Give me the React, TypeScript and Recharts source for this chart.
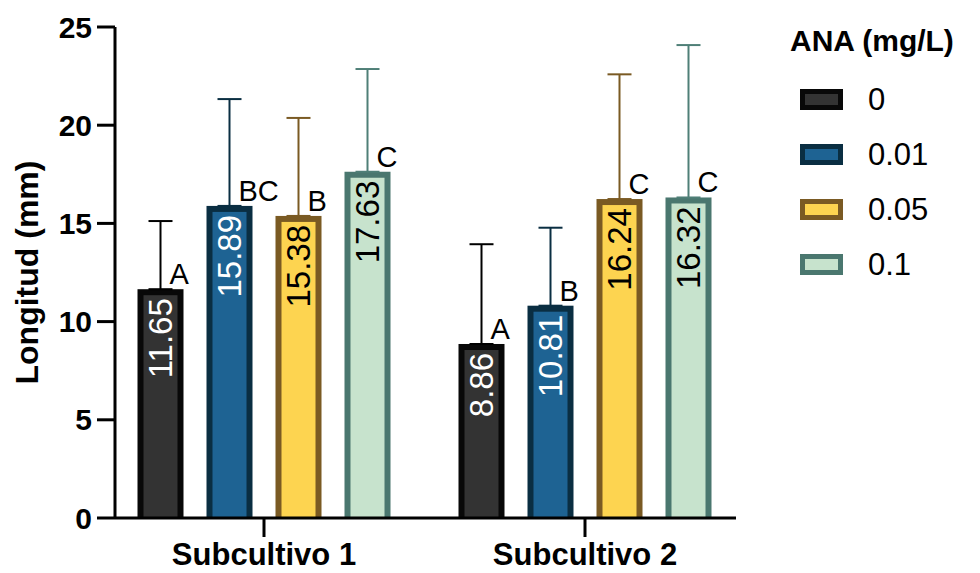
import React from 'react';
import { BarChart, Bar, XAxis, YAxis, ErrorBar, LabelList } from 'recharts';

const categories = ['Subcultivo 1', 'Subcultivo 2'];
const doses = ['0', '0.01', '0.05', '0.1'];

// means (mm) per dose, one value per subculture
const mean0 = [11.65, 8.86];
const mean001 = [15.89, 10.81];
const mean005 = [15.38, 16.24];
const mean01 = [17.63, 16.32];

// upper error (SD)
const err0 = [3.47, 5.08];
const err001 = [5.44, 3.97];
const err005 = [4.99, 6.35];
const err01 = [5.23, 7.76];

// significance letters
const letters0 = ['A', 'A'];
const letters001 = ['BC', 'B'];
const letters005 = ['B', 'C'];
const letters01 = ['C', 'C'];

const yTicks = [0, 5, 10, 15, 20, 25];

const FONT = '"Liberation Sans", Arial, sans-serif';

const series = [
    { key: 's0', name: doses[0], fill: '#333333', stroke: '#080808', err: '#000000', text: '#ffffff' },
    { key: 's1', name: doses[1], fill: '#1e6393', stroke: '#0a2e42', err: '#0a2e42', text: '#ffffff' },
    { key: 's2', name: doses[2], fill: '#fdd450', stroke: '#7a5a23', err: '#7a5a23', text: '#000000' },
    { key: 's3', name: doses[3], fill: '#c7e3cd', stroke: '#4a776f', err: '#4f7f77', text: '#000000' },
];

const means = [mean0, mean001, mean005, mean01];
const errs = [err0, err001, err005, err01];
const letters = [letters0, letters001, letters005, letters01];

const data = categories.map((name, i) => {
    const row: any = { name };
    series.forEach((s, j) => {
        row[s.key] = means[j][i];
        row[s.key + 'e'] = [0, errs[j][i]];
        row[s.key + 'l'] = letters[j][i];
    });
    return row;
});

const BORDER = 6;

const makeShape = (fill: string, stroke: string) => (props: any) => {
    const { x, y, width, height } = props;
    if (!height || height <= 0) return null;
    return (
        <g>
            <rect x={x} y={y} width={width} height={height} fill={stroke} />
            <rect x={x + BORDER} y={y + BORDER} width={width - 2 * BORDER} height={height - BORDER} fill={fill} />
        </g>
    );
};

const makeValueLabel = (color: string) => (props: any) => {
    const { x, y, width, value } = props;
    const cx = x + width / 2;
    const ty = y + 9;
    return (
        <text
            x={cx}
            y={ty}
            transform={`rotate(-90, ${cx}, ${ty})`}
            textAnchor="end"
            dominantBaseline="central"
            fill={color}
            fontSize={33}
            fontFamily={FONT}
        >
            {Number(value).toFixed(2)}
        </text>
    );
};

const LetterLabel = (props: any) => {
    const { x, y, width, value } = props;
    return (
        <text x={x + width / 2 + 9} y={y - 5} textAnchor="start" fill="#000" fontSize={29} fontFamily={FONT}>
            {value}
        </text>
    );
};

const LegendBox = () => (
    <div style={{ position: 'absolute', left: 790, top: 24, width: 190, fontFamily: FONT, color: '#000' }}>
        <div style={{ fontSize: 30, fontWeight: 'bold', lineHeight: '34px', marginBottom: 14 }}>ANA (mg/L)</div>
        {series.map((s) => (
            <div key={s.key} style={{ display: 'flex', alignItems: 'center', height: 55 }}>
                <div
                    style={{
                        width: 43,
                        height: 21,
                        boxSizing: 'border-box',
                        background: s.fill,
                        border: `5px solid ${s.stroke}`,
                        marginLeft: 10,
                        marginRight: 25,
                    }}
                />
                <span style={{ fontSize: 31 }}>{s.name}</span>
            </div>
        ))}
    </div>
);

export default function App() {
    return (
        <div style={{ position: 'relative', width: 980, height: 573, background: '#fff' }}>
            <style>{'body{margin:0}'}</style>
            <BarChart
                width={980}
                height={573}
                data={data}
                margin={{ top: 27, right: 244, left: 0, bottom: 0 }}
                barSize={46}
                barGap={23}
            >
                <XAxis
                    dataKey="name"
                    padding={{ left: -11.5, right: -9.5 }}
                    height={55}
                    axisLine={{ stroke: '#000', strokeWidth: 3 }}
                    tickLine={{ stroke: '#000', strokeWidth: 3 }}
                    tickSize={19}
                    tickMargin={6}
                    tick={{ fill: '#000', fontSize: 31, fontWeight: 'bold', fontFamily: FONT }}
                />
                <YAxis
                    domain={[0, 25]}
                    ticks={yTicks}
                    width={115}
                    axisLine={{ stroke: '#000', strokeWidth: 3 }}
                    tickLine={{ stroke: '#000', strokeWidth: 3 }}
                    tickSize={18}
                    tickMargin={5}
                    tick={{ fill: '#000', fontSize: 30, fontWeight: 'bold', fontFamily: FONT }}
                    label={(p: any) => {
                        const vb = p.viewBox;
                        const cx = vb.x + 27;
                        const cy = vb.y + vb.height / 2;
                        return (
                            <text
                                x={cx}
                                y={cy}
                                transform={`rotate(-90, ${cx}, ${cy})`}
                                textAnchor="middle"
                                dominantBaseline="central"
                                fontSize={32}
                                fontWeight="bold"
                                fontFamily={FONT}
                                fill="#000"
                            >
                                Longitud (mm)
                            </text>
                        );
                    }}
                />
                {series.map((s) => (
                    <Bar
                        key={s.key}
                        dataKey={s.key}
                        name={s.name}
                        fill={s.fill}
                        shape={makeShape(s.fill, s.stroke)}
                        isAnimationActive={false}
                    >
                        <ErrorBar dataKey={s.key + 'e'} direction="y" width={12} stroke={s.err} strokeWidth={2} />
                        <LabelList dataKey={s.key} content={makeValueLabel(s.text)} />
                        <LabelList dataKey={s.key + 'l'} content={LetterLabel} />
                    </Bar>
                ))}
            </BarChart>
            <LegendBox />
        </div>
    );
}
